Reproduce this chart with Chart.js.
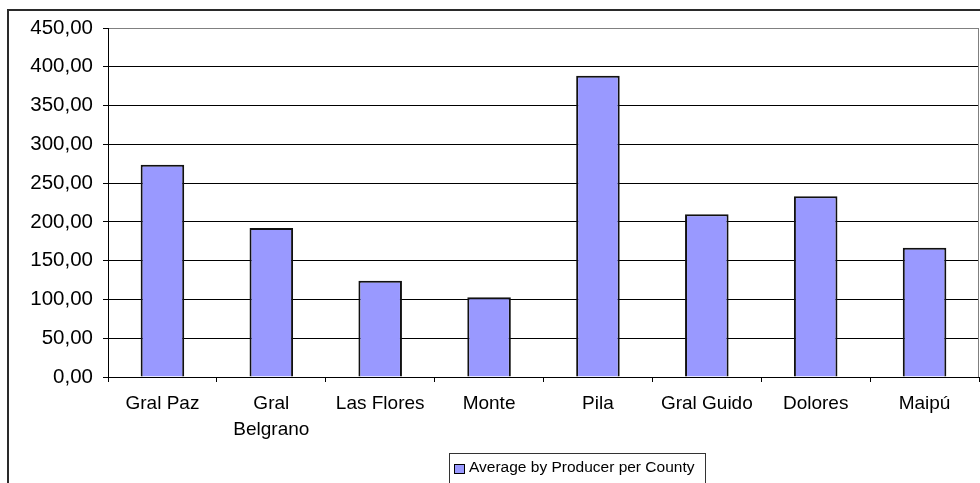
<!DOCTYPE html>
<html>
<head>
<meta charset="utf-8">
<title>Average by Producer per County</title>
<script src="https://cdn.jsdelivr.net/npm/chart.js@4/dist/chart.umd.min.js"></script>
<style>
  html, body { margin: 0; padding: 0; background: #fff; }
  #wrap { position: relative; width: 980px; height: 483px; }
</style>
</head>
<body>
<div id="wrap"><canvas id="chart" width="980" height="483"></canvas></div>
<script>
// Counties (multi-line labels are given as arrays)
const categories = ['Gral Paz', ['Gral', 'Belgrano'], 'Las Flores', 'Monte', 'Pila', 'Gral Guido', 'Dolores', 'Maipú'];
// Average by producer in each county
const averages = [273.7, 192.1, 124.2, 102.8, 388.5, 209.8, 233.0, 166.7];
const seriesLabel = 'Average by Producer per County';
// Value axis range
const axisMin = 0;
const axisMax = 450;
const axisStep = 50;

const FONT = '"Liberation Sans", Arial, sans-serif';
const BAR_FILL = '#9999FF';

// Frame, plot border and boxed legend, drawn around the chart area
const framePlugin = {
  id: 'frame',
  beforeDatasetsDraw(chart) {
    const { ctx, chartArea: a } = chart;
    ctx.save();
    ctx.strokeStyle = '#808080';
    ctx.lineWidth = 1;
    ctx.beginPath();
    ctx.moveTo(a.right - 0.5, a.top);
    ctx.lineTo(a.right - 0.5, a.bottom);
    ctx.stroke();
    ctx.restore();
  },
  afterDraw(chart) {
    const { ctx } = chart;
    ctx.save();
    // outer chart border (continues past the right and bottom edges)
    ctx.strokeStyle = '#2a2a2a';
    ctx.lineWidth = 2;
    ctx.beginPath();
    ctx.moveTo(8, 490);
    ctx.lineTo(8, 10);
    ctx.lineTo(990, 10);
    ctx.stroke();

    // legend box
    const ds = chart.data.datasets[0];
    ctx.strokeStyle = '#333';
    ctx.lineWidth = 1;
    ctx.strokeRect(449.5, 453.5, 256, 40);
    ctx.fillStyle = ds.backgroundColor;
    ctx.fillRect(454, 464, 11, 10);
    ctx.strokeStyle = '#000';
    ctx.strokeRect(454.5, 464.5, 10, 9);
    ctx.fillStyle = '#000';
    ctx.font = '15.5px ' + FONT;
    ctx.textBaseline = 'middle';
    ctx.textAlign = 'left';
    ctx.fillText(ds.label, 469, 468);
    ctx.restore();
  }
};

new Chart(document.getElementById('chart'), {
  type: 'bar',
  data: {
    labels: categories,
    datasets: [{
      label: seriesLabel,
      data: averages,
      backgroundColor: BAR_FILL,
      borderColor: '#111',
      borderWidth: 2,
      categoryPercentage: 1,
      barPercentage: 0.4
    }]
  },
  options: {
    responsive: false,
    animation: false,
    events: [],
    layout: { padding: { top: 28, right: 1, left: 0, bottom: 0 } },
    plugins: {
      legend: { display: false },
      tooltip: { enabled: false },
      title: { display: false }
    },
    scales: {
      x: {
        afterFit(scale) { scale.height = 106; },
        border: { display: true, color: '#000', width: 1 },
        grid: {
          offset: true,
          drawOnChartArea: false,
          drawTicks: true,
          tickLength: 5,
          color: '#000'
        },
        ticks: {
          color: '#000',
          padding: 8,
          maxRotation: 0,
          autoSkip: false,
          font: { family: FONT, size: 19, lineHeight: 1.4 }
        }
      },
      y: {
        min: axisMin,
        max: axisMax,
        afterFit(scale) { scale.width = 108; },
        border: { display: true, color: '#000', width: 1 },
        grid: {
          color: (c) => (c.tick && c.tick.value === axisMax ? '#808080' : '#000'),
          tickColor: '#000',
          tickLength: 5
        },
        ticks: {
          stepSize: axisStep,
          color: '#000',
          padding: 10,
          font: { family: FONT, size: 20.5 },
          callback: (v) => Number(v).toFixed(2).replace('.', ',')
        }
      }
    }
  },
  plugins: [framePlugin]
});
</script>
</body>
</html>
